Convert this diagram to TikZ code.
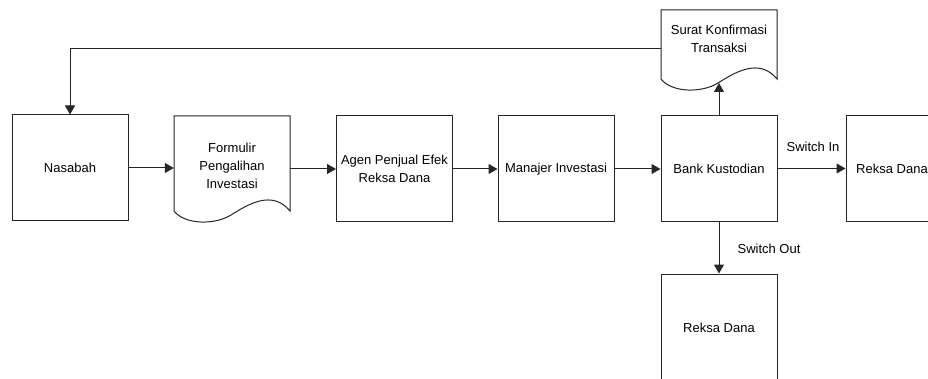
\documentclass[tikz,border=0pt]{standalone}
\usepackage{fontspec}
\setmainfont{Liberation Sans}
\usetikzlibrary{arrows.meta}
\tikzset{
  box/.style={draw=black!85, line width=1pt, minimum width=116pt, minimum height=106pt, inner sep=0pt, align=center, font=\fontsize{13}{18}\selectfont},
  doctext/.style={minimum width=116pt, inner sep=0pt, align=center, font=\fontsize{13}{18}\selectfont},
  docline/.style={draw=black!85, line width=1pt},
  conn/.style={draw=black!85, line width=1pt, -{Triangle[length=9pt,width=10pt]}},
  lbl/.style={inner sep=0pt, font=\fontsize{13}{16}\selectfont}
}
\newcommand{\mydocshape}[3]{% left x, top y, bottom baseline y
  \draw[docline] (#1,#3) -- (#1,#2) -- (#1+116,#2) -- (#1+116,#3)
    .. controls (#1+98,#3-22) and (#1+73,#3-6) .. (#1+57,#3+4)
    .. controls (#1+41,#3+14) and (#1+11,#3+14) .. (#1,#3) -- cycle;}
\begin{document}
\begin{tikzpicture}[x=1pt,y=-1pt]
\clip (0,0) rectangle (928,379);
\fill[white] (0,0) rectangle (928,379);

% nodes
\node[box] (nas) at (70,168) {Nasabah};
\mydocshape{174}{116}{211}
\node[doctext] (form) at (232,166) {Formulir\\Pengalihan\\Investasi};
\node[box] (agen) at (394.5,169) {Agen Penjual Efek\\Reksa Dana};
\node[box] (man) at (556,169) {Manajer Investasi};
\node[box] (bank) at (719,168.5) {Bank Kustodian};
\node[box, minimum width=92pt] (rdr) at (892,168.5) {Reksa Dana};
\node[box, minimum height=108pt] (rdb) at (719,328) {Reksa Dana};
\mydocshape{661}{10}{79}
\node[doctext] (sur) at (719,39) {Surat Konfirmasi\\Transaksi};
\coordinate (swave) at (719,83);

% connectors
\draw[conn] (nas.east) -- (nas.east -| form.west);
\draw[conn] (form.east |- agen.west) -- (agen.west);
\draw[conn] (agen.east) -- (man.west);
\draw[conn] (man.east) -- (man.east -| bank.west);
\draw[conn] (bank.east) -- (rdr.west);
\draw[conn] (bank.north) -- (swave);
\draw[conn] (bank.south) -- (rdb.north);
\draw[conn] ([yshift=-10pt]sur.west) -| (nas.north);

% labels
\node[lbl] (swin) at (813,147) {Switch In};
\node[lbl] (swout) at (769,249) {Switch Out};
\end{tikzpicture}
\end{document}
